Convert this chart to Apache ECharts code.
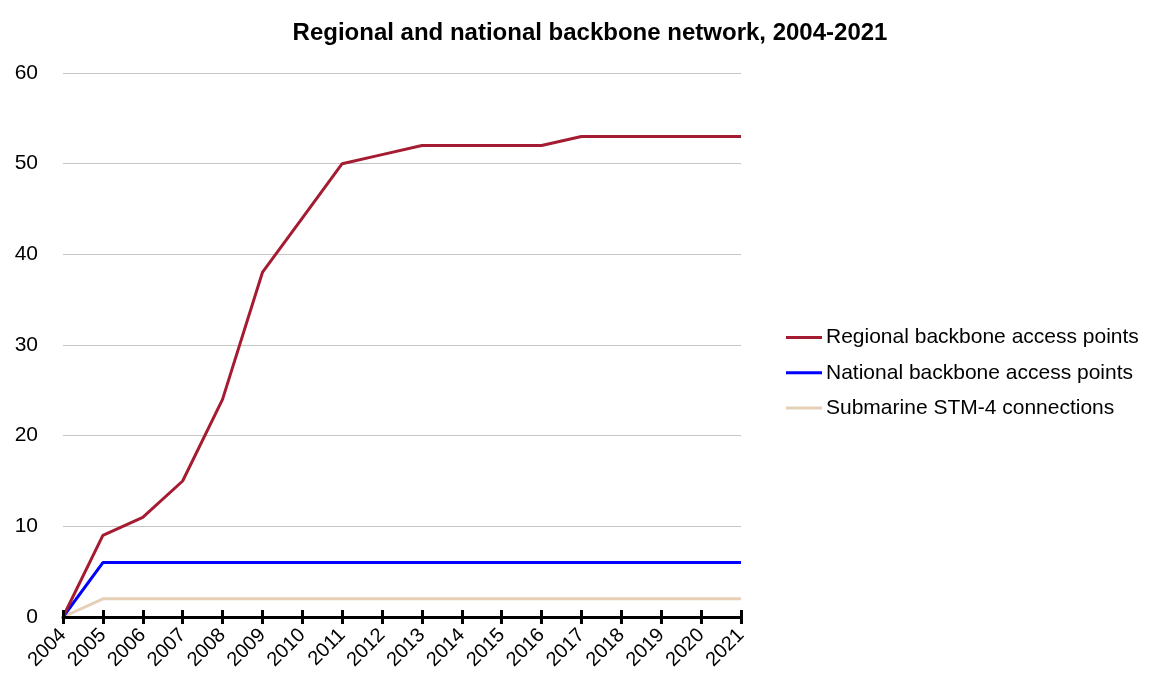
<!DOCTYPE html>
<html>
<head>
<meta charset="utf-8">
<title>Regional and national backbone network, 2004-2021</title>
<script src="https://cdn.jsdelivr.net/npm/echarts@6/dist/echarts.min.js"></script>
<style>
  html, body { margin: 0; padding: 0; background: #ffffff; }
  #chart { width: 1153px; height: 677px; }
</style>
</head>
<body>
<div id="chart"></div>
<script>
// Years on the horizontal axis
const years = ['2004','2005','2006','2007','2008','2009','2010','2011','2012',
               '2013','2014','2015','2016','2017','2018','2019','2020','2021'];

// Number of access points / connections per year
const regionalAccessPoints = [0, 9, 11, 15, 24, 38, 44, 50, 51, 52, 52, 52, 52, 53, 53, 53, 53, 53];
const nationalAccessPoints = [0, 6, 6, 6, 6, 6, 6, 6, 6, 6, 6, 6, 6, 6, 6, 6, 6, 6];
const submarineConnections = [0, 2, 2, 2, 2, 2, 2, 2, 2, 2, 2, 2, 2, 2, 2, 2, 2, 2];

const seriesNames = ['Regional backbone access points', 'National backbone access points', 'Submarine STM-4 connections'];
const seriesColors = ['#a51b31', '#0000ff', '#e6cfb7'];

const font = 'Liberation Sans, Arial, sans-serif';
const chart = echarts.init(document.getElementById('chart'), null, { renderer: 'canvas' });

function lineSeries(name, data, color, z) {
  return {
    name: name,
    type: 'line',
    data: data,
    xAxisIndex: 0,
    symbol: 'none',
    z: z,
    lineStyle: { color: color, width: 3 },
    itemStyle: { color: color },
    animation: false
  };
}

chart.setOption({
  backgroundColor: '#ffffff',
  animation: false,
  title: {
    text: 'Regional and national backbone network, 2004-2021',
    left: 585,
    textAlign: 'center',
    top: 16,
    textStyle: { fontFamily: font, fontSize: 24, fontWeight: 'bold', color: '#000000' }
  },
  legend: {
    orient: 'vertical',
    left: 786,
    top: 327,
    padding: 0,
    itemGap: 14.3,
    itemWidth: 36,
    itemHeight: 3,
    icon: 'rect',
    textStyle: { fontFamily: font, fontSize: 21, color: '#000000', padding: [0, 0, 0, -1] },
    data: seriesNames
  },
  grid: { left: 63, right: 412, top: 73, bottom: 60, containLabel: false },
  xAxis: [
    {
      type: 'category',
      data: years,
      boundaryGap: false,
      axisLine: { show: true, lineStyle: { color: '#000000', width: 3 } },
      axisTick: { show: true, alignWithLabel: true, length: 7, lineStyle: { color: '#000000', width: 3 } },
      axisLabel: {
        rotate: 45,
        interval: 0,
        margin: 15,
        fontFamily: font,
        fontSize: 20,
        color: '#000000'
      },
      splitLine: { show: false },
      z: 5
    },
    {
      // second axis on the same position draws the upper half of each tick mark
      type: 'category',
      data: years,
      boundaryGap: false,
      position: 'bottom',
      axisLine: { show: false },
      axisTick: { show: true, inside: true, length: 7, lineStyle: { color: '#000000', width: 3 } },
      axisLabel: { show: false },
      splitLine: { show: false },
      z: 5
    }
  ],
  yAxis: {
    type: 'value',
    min: 0,
    max: 60,
    interval: 10,
    axisLine: { show: false },
    axisTick: { show: false },
    axisLabel: { margin: 25, fontFamily: font, fontSize: 21, color: '#000000' },
    splitLine: { show: true, lineStyle: { color: '#c6c6c6', width: 1 } }
  },
  series: [
    lineSeries(seriesNames[0], regionalAccessPoints, seriesColors[0], 4),
    lineSeries(seriesNames[1], nationalAccessPoints, seriesColors[1], 3),
    lineSeries(seriesNames[2], submarineConnections, seriesColors[2], 2)
  ]
});
</script>
</body>
</html>
